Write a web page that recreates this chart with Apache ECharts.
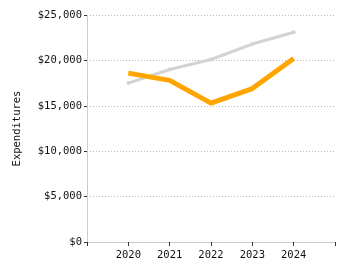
<!DOCTYPE html>
<html>
<head>
<meta charset="utf-8">
<script src="https://cdn.jsdelivr.net/npm/echarts@6/dist/echarts.min.js"></script>
<style>
  html, body { margin: 0; padding: 0; background: #fff; }
  #chart { width: 350px; height: 275px; }
</style>
</head>
<body>
<div id="chart"></div>
<script>
// blank slots at both ends so the years sit inside the axis
var years = ['', '2020', '2021', '2022', '2023', '2024', ''];
var orangeValues = [null, 18600, 17800, 15300, 16900, 20200, null];
var grayValues = [null, 17500, 19000, 20100, 21800, 23100, null];
var yTicks = [0, 5000, 10000, 15000, 20000, 25000];

var font = 'DejaVu Sans Mono';
var textColor = '#111';

var myChart = echarts.init(document.getElementById('chart'));

var option = {
    animation: false,
    grid: { left: 87, right: 15, top: 15, bottom: 33 },
    xAxis: {
        type: 'category',
        data: years,
        boundaryGap: false,
        axisLine: { lineStyle: { color: '#ccc' } },
        axisTick: { show: true, length: 4, lineStyle: { color: '#333' } },
        axisLabel: { color: textColor, fontFamily: font, fontSize: 10.5, margin: 8, interval: 0 },
        splitLine: { show: false }
    },
    yAxis: {
        type: 'value',
        min: yTicks[0],
        max: yTicks[yTicks.length - 1],
        interval: 5000,
        name: 'Expenditures',
        nameLocation: 'middle',
        nameGap: 64,
        nameTextStyle: { color: textColor, fontFamily: font, fontSize: 10.5 },
        axisLine: { show: true, lineStyle: { color: '#ccc' } },
        axisTick: { show: true, length: 3, lineStyle: { color: '#333' } },
        axisLabel: {
            color: textColor, fontFamily: font, fontSize: 10.5, margin: 5,
            formatter: function(v) { return '$' + v.toLocaleString('en-US'); }
        },
        splitLine: { lineStyle: { color: '#bbb', type: [1, 2] } }
    },
    series: [
        {
            name: 'gray',
            type: 'line',
            data: grayValues,
            symbol: 'circle',
            symbolSize: 4,
            itemStyle: { color: '#d3d3d3' },
            lineStyle: { color: '#d3d3d3', width: 3 },
            z: 1
        },
        {
            name: 'orange',
            type: 'line',
            data: orangeValues,
            symbol: 'none',
            lineStyle: { color: '#ffa500', width: 5 },
            z: 2
        }
    ]
};

myChart.setOption(option);
</script>
</body>
</html>
